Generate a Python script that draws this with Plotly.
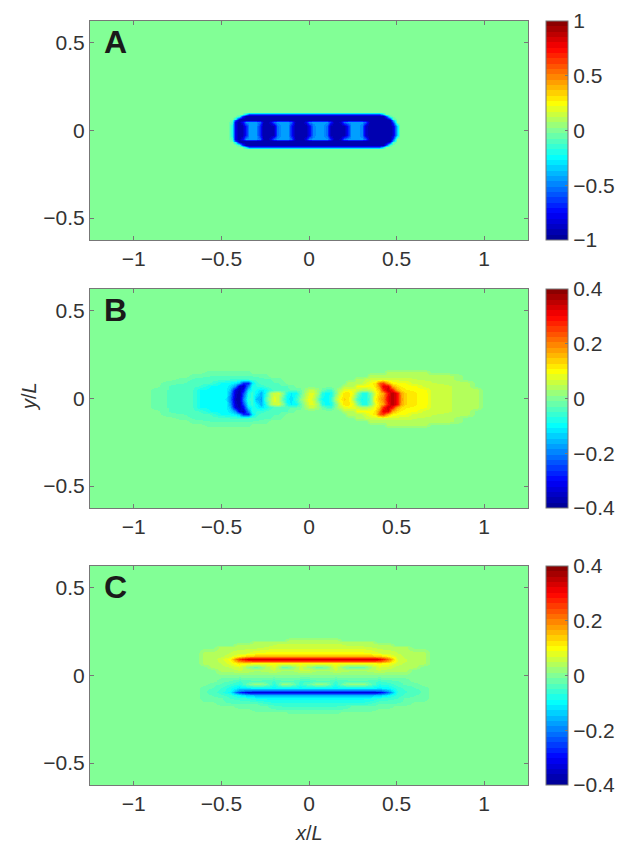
import plotly.graph_objects as go

# values, on coarse hand picked grids

x_a = [-1.25,
       -.46, -.44, -.42, -.40, -.38, -.36, -.34, -.32, -.30, -.28,
       -.26, -.24, -.22, -.20, -.18, -.16, -.14, -.12, -.10, -.08,
       -.06, -.04, -.02, 0, .02, .04, .06, .08, .10, .12,
       .14, .16, .18, .20, .22, .24, .26, .28, .30, .32,
       .34, .36, .38, .40, .42, .44, .46, .48, .50, .52,
       1.25]
y_a = [-.625, -.108, -.096, -.085, -.065, -.058, -.048, -.025, .025, .048, .058, .065, .085, .096, .108, .625]

a_blank = [0] * 52
a_edge = [0,
          0, 0, 0, 0, 0, -.3, -.6, -.6, -.6, -.6,
          -.6, -.6, -.6, -.6, -.6, -.6, -.6, -.6, -.6, -.6,
          -.6, -.6, -.6, -.6, -.6, -.6, -.6, -.6, -.6, -.6,
          -.6, -.6, -.6, -.6, -.6, -.6, -.6, -.6, -.6, -.6,
          -.6, -.6, -.6, -.6, -.3, 0, 0, 0, 0, 0,
          0]
a_round = [0,
           0, 0, 0, -.1, -.6, -.95, -.95, -.95, -.95, -.95,
           -.95, -.95, -.95, -.95, -.95, -.95, -.95, -.95, -.95, -.95,
           -.95, -.95, -.95, -.95, -.95, -.95, -.95, -.95, -.95, -.95,
           -.95, -.95, -.95, -.95, -.95, -.95, -.95, -.95, -.95, -.95,
           -.95, -.95, -.95, -.95, -.95, -.6, -.1, 0, 0, 0,
           0]
a_shoulder = [0,
              0, 0, -.2, -.85, -.95, -.95, -.95, -.95, -.95, -.95,
              -.95, -.95, -.95, -.95, -.95, -.95, -.95, -.95, -.95, -.95,
              -.95, -.95, -.95, -.95, -.95, -.95, -.95, -.95, -.95, -.95,
              -.95, -.95, -.95, -.95, -.95, -.95, -.95, -.95, -.95, -.95,
              -.95, -.95, -.95, -.95, -.95, -.95, -.7, -.1, 0, 0,
              0]
a_solid = [0,
           0, -.05, -.6, -.95, -.95, -.95, -.95, -.95, -.95, -.95,
           -.95, -.95, -.95, -.95, -.95, -.95, -.95, -.95, -.95, -.95,
           -.95, -.95, -.95, -.95, -.95, -.95, -.95, -.95, -.95, -.95,
           -.95, -.95, -.95, -.95, -.95, -.95, -.95, -.95, -.95, -.95,
           -.95, -.95, -.95, -.95, -.95, -.95, -.9, -.4, 0, 0,
           0]
a_wide = [0,
          0, -.1, -.8, -.95, -.8, -.45, -.45, -.45, -.45, -.55,
          -.9, -.95, -.85, -.55, -.45, -.45, -.45, -.45, -.55, -.9,
          -.95, -.95, -.8, -.5, -.45, -.45, -.45, -.45, -.45, -.65,
          -.95, -.95, -.85, -.55, -.45, -.45, -.45, -.45, -.45, -.55,
          -.9, -.95, -.95, -.95, -.95, -.95, -.95, -.6, 0, 0,
          0]
a_waist = [0,
           0, -.2, -.8, -.95, -.95, -.7, -.45, -.45, -.45, -.7,
           -.95, -.95, -.95, -.9, -.55, -.45, -.45, -.45, -.7, -.95,
           -.95, -.95, -.95, -.8, -.5, -.45, -.45, -.45, -.55, -.9,
           -.95, -.95, -.95, -.95, -.7, -.45, -.45, -.45, -.5, -.85,
           -.95, -.95, -.95, -.95, -.95, -.95, -.95, -.85, -.35, 0,
           0]
z_a = [a_blank, a_blank, a_edge, a_round, a_shoulder, a_solid, a_wide, a_waist,
       a_waist, a_wide, a_solid, a_shoulder, a_round, a_edge, a_blank, a_blank]

x_b = [-1.25, -.92, -.88, -.8, -.7, -.66, -.62, -.56, -.5,
       -.475, -.45, -.425, -.40, -.375, -.35, -.325, -.30, -.275, -.25, -.225, -.20,
       -.175, -.15, -.125, -.10, -.075, -.05, -.025, 0, .025, .05, .075, .10,
       .125, .15, .175, .20, .225, .25, .275, .30, .325, .35, .375, .40,
       .425, .45, .475, .50, .525, .55,
       .6, .66, .7, .8, .9, .96, 1.0, 1.25]
y_b = [-.625, -.17, -.15, -.13, -.11, -.09, -.07, -.05, -.03, 0, .03, .05, .07, .09, .11, .13, .15, .17, .625]

b_blank = [0] * 59
b_00 = [0, 0, -.025, -.03, -.04, -.05, -.09, -.095, -.10,
        -.11, -.2, -.36, -.38, -.2, -.07, -.06, -.15, -.17, -.05, .03, .08,
        .05, -.04, -.1, -.12, -.06, 0, .05, .09, .06, -.02, -.09, -.1,
        -.06, .03, .1, .13, .12, .04, -.04, -.09, -.08, -.02, .1, .15,
        .2, .32, .36, .3, .18, .13,
        .11, .1, .06, .05, .04, .04, 0, 0]
b_03 = [0, 0, -.025, -.03, -.04, -.05, -.09, -.095, -.10,
        -.10, -.18, -.34, -.38, -.25, -.09, -.06, -.1, -.16, -.09, .02, .06,
        .07, 0, -.08, -.11, -.09, -.03, .03, .07, .07, .02, -.07, -.1,
        -.08, -.01, .07, .12, .12, .08, 0, -.07, -.08, -.01, .08, .13,
        .17, .3, .36, .3, .17, .13,
        .11, .1, .06, .05, .04, .04, 0, 0]
b_05 = [0, 0, -.025, -.03, -.04, -.05, -.09, -.095, -.10,
        -.10, -.15, -.33, -.37, -.3, -.12, -.08, -.09, -.12, -.1, -.06, -.04,
        -.03, -.03, -.03, -.03, -.03, -.02, .02, .05, .05, .02, -.02, -.05,
        -.05, 0, .05, .08, .09, .08, .06, .03, .03, .05, .1, .14,
        .27, .34, .3, .17, .13, .11,
        .105, .095, .06, .05, .04, .04, 0, 0]
b_07 = [0, 0, 0, -.03, -.04, -.045, -.05, -.09, -.095,
        -.10, -.12, -.18, -.33, -.35, -.2, -.08, -.07, -.06, -.05, -.04, -.035,
        -.03, -.03, -.03, -.025, 0, 0, 0, 0, 0, 0, 0, 0,
        0, 0, 0, .04, .04, .04, .09, .09, .1, .1, .11, .2,
        .32, .32, .17, .12, .105, .10,
        .095, .06, .06, .05, .04, 0, 0, 0]
b_09 = [0, 0, 0, -.025, -.03, -.04, -.04, -.05, -.09,
        -.095, -.10, -.11, -.15, -.27, -.27, -.12, -.06, -.04, -.04, -.035, -.03,
        -.03, -.025, 0, 0, 0, 0, 0, 0, 0, 0, 0, 0,
        0, 0, 0, 0, .04, .04, .04, .05, .07, .09, .12, .22,
        .26, .16, .11, .095, .09, .09,
        .06, .06, .05, .045, .04, 0, 0, 0]
b_11 = [0, 0, 0, 0, -.025, -.03, -.035, -.04, -.04,
        -.045, -.05, -.05, -.05, -.05, -.05, -.045, -.04, -.035, -.03, -.03, -.025,
        -.025, 0, 0, 0, 0, 0, 0, 0, 0, 0, 0, 0,
        0, 0, 0, 0, 0, 0, .04, .04, .05, .06, .06, .06,
        .06, .06, .06, .06, .06, .06,
        .05, .045, .045, .04, 0, 0, 0, 0]
b_13 = [0, 0, 0, 0, 0, -.025, -.025, -.03, -.03,
        -.03, -.03, -.03, -.03, -.03, -.03, -.03, -.025, -.025, -.025, 0, 0,
        0, 0, 0, 0, 0, 0, 0, 0, 0, 0, 0, 0,
        0, 0, 0, 0, 0, 0, 0, 0, 0, .04, .04, .04,
        .04, .04, .04, .04, .04, .04,
        .04, .04, .04, .04, 0, 0, 0, 0]
b_15 = [0, 0, 0, 0, 0, 0, 0, -.025, -.025,
        -.025, -.025, -.025, -.025, -.025, -.025, 0, 0, 0, 0, 0, 0,
        0, 0, 0, 0, 0, 0, 0, 0, 0, 0, 0, 0,
        0, 0, 0, 0, 0, 0, 0, 0, 0, 0, 0, 0,
        0, .04, .04, .04, .04, .04,
        .04, .04, 0, 0, 0, 0, 0, 0]
z_b = [b_blank, b_blank, b_15, b_13, b_11, b_09, b_07, b_05, b_03, b_00,
       b_03, b_05, b_07, b_09, b_11, b_13, b_15, b_blank, b_blank]

x_c = [-1.25, -.64, -.6, -.55, -.5, -.45, -.4, -.35, -.3, -.25,
       -.2, -.15, -.1, -.05, 0, .05, .1, .15, .2, .25,
       .3, .35, .4, .45, .5, .55, .6, .65, .7, 1.25]
y_c = [-.625, -.225, -.21, -.195, -.175, -.16, -.13, -.11, -.097, -.087, -.07, -.05, -.03, 0,
       .03, .05, .07, .085, .095, .11, .13, .16, .175, .19, .205, .22, .625]

c_blank = [0] * 30
c_p205 = [0, 0, 0, 0, 0, 0, 0, 0, 0, 0,
          0, 0, .04, .04, .04, .04, .04, .04, 0, 0,
          0, 0, 0, 0, 0, 0, 0, 0, 0, 0]
c_p19 = [0, 0, 0, 0, 0, 0, 0, 0, .04, .04,
         .04, .04, .04, .04, .04, .04, .04, .04, .04, .04,
         .04, .04, 0, 0, 0, 0, 0, 0, 0, 0]
c_p175 = [0, 0, 0, 0, 0, 0, .04, .04, .04, .04,
          .05, .06, .06, .06, .06, .06, .06, .06, .05, .04,
          .04, .04, .04, .04, 0, 0, 0, 0, 0, 0]
c_p16 = [0, 0, 0, 0, .04, .04, .04, .04, .04, .05,
         .06, .06, .06, .06, .06, .06, .06, .06, .06, .06,
         .06, .05, .04, .04, .04, .04, 0, 0, 0, 0]
c_p13 = [0, 0, .04, .04, .04, .05, .06, .07, .09, .095,
         .1, .1, .1, .1, .1, .1, .1, .1, .1, .1,
         .095, .09, .07, .06, .05, .04, .04, .04, 0, 0]
c_p11 = [0, 0, .04, .04, .045, .06, .1, .14, .15, .15,
         .15, .15, .15, .15, .15, .15, .15, .15, .15, .15,
         .15, .15, .14, .1, .06, .045, .04, .04, 0, 0]
c_p095 = [0, 0, .04, .04, .06, .1, .26, .33, .34, .34,
          .34, .34, .34, .34, .34, .34, .34, .34, .34, .34,
          .34, .34, .32, .22, .07, .05, .04, .04, 0, 0]
c_p085 = [0, 0, .04, .04, .055, .09, .2, .24, .25, .25,
          .25, .25, .25, .25, .25, .25, .25, .25, .25, .25,
          .25, .25, .24, .17, .07, .05, .04, .04, 0, 0]
c_p07 = [0, 0, .04, .04, .05, .08, .12, .11, .1, .1,
         .1, .1, .1, .1, .1, .1, .1, .1, .1, .1,
         .1, .1, .11, .1, .06, .045, .04, .04, 0, 0]
c_p05 = [0, 0, 0, .04, .04, .05, .07, .01, -.02, .03,
         .07, -.02, 0, .06, .02, -.02, 0, .07, 0, -.02,
         -.02, .02, .07, .06, .04, .04, .04, 0, 0, 0]
c_p03 = [0, 0, 0, 0, .04, .04, .05, .045, .03, .04,
         .05, .03, .03, .05, .05, .03, .03, .05, .04, .03,
         .03, .04, .05, .04, .04, .04, 0, 0, 0, 0]
c_m03 = [0, 0, 0, 0, -.025, -.03, -.05, -.04, -.03, -.04,
         -.05, -.03, -.03, -.05, -.05, -.03, -.03, -.05, -.04, -.03,
         -.03, -.04, -.05, -.04, -.03, -.025, 0, 0, 0, 0]
c_m05 = [0, 0, 0, -.025, -.03, -.05, -.07, -.01, .02, 0,
         -.07, .02, 0, -.06, -.02, .02, 0, -.07, 0, .02,
         .02, -.02, -.07, -.06, -.04, -.025, -.025, 0, 0, 0]
c_m07 = [0, 0, -.025, -.03, -.05, -.08, -.12, -.11, -.1, -.1,
         -.1, -.1, -.1, -.1, -.1, -.1, -.1, -.1, -.1, -.1,
         -.1, -.1, -.11, -.1, -.06, -.045, -.03, -.025, 0, 0]
c_m087 = [0, 0, -.025, -.04, -.055, -.09, -.2, -.24, -.25, -.25,
          -.25, -.25, -.25, -.25, -.25, -.25, -.25, -.25, -.25, -.25,
          -.25, -.25, -.24, -.17, -.07, -.05, -.04, -.025, 0, 0]
c_m097 = [0, 0, -.025, -.04, -.06, -.1, -.26, -.33, -.34, -.34,
          -.34, -.34, -.34, -.34, -.34, -.34, -.34, -.34, -.34, -.34,
          -.34, -.34, -.32, -.22, -.07, -.05, -.04, -.025, 0, 0]
c_m11 = [0, 0, -.025, -.03, -.045, -.06, -.1, -.14, -.15, -.15,
         -.15, -.15, -.15, -.15, -.15, -.15, -.15, -.15, -.15, -.15,
         -.15, -.15, -.14, -.1, -.06, -.045, -.03, -.025, 0, 0]
c_m13 = [0, 0, -.025, -.025, -.025, -.05, -.06, -.07, -.09, -.095,
         -.1, -.1, -.1, -.1, -.1, -.1, -.1, -.1, -.1, -.1,
         -.095, -.09, -.07, -.06, -.05, -.025, -.025, -.025, 0, 0]
c_m16 = [0, 0, 0, 0, -.025, -.025, -.025, -.025, -.025, -.045,
         -.06, -.06, -.06, -.06, -.06, -.06, -.06, -.06, -.06, -.06,
         -.06, -.045, -.025, -.025, -.025, -.025, 0, 0, 0, 0]
c_m175 = [0, 0, 0, 0, 0, 0, -.025, -.025, -.025, -.025,
          -.04, -.05, -.05, -.05, -.05, -.05, -.05, -.05, -.04, -.025,
          -.025, -.025, -.025, -.025, 0, 0, 0, 0, 0, 0]
c_m19 = [0, 0, 0, 0, 0, 0, 0, 0, -.025, -.025,
         -.025, -.025, -.025, -.025, -.025, -.025, -.025, -.025, -.025, -.025,
         -.025, -.025, 0, 0, 0, 0, 0, 0, 0, 0]
c_m21 = [0, 0, 0, 0, 0, 0, 0, 0, 0, 0,
         0, 0, -.025, -.025, -.025, -.025, -.025, -.025, 0, 0,
         0, 0, 0, 0, 0, 0, 0, 0, 0, 0]
z_c = [c_blank, c_blank, c_m21, c_m19, c_m175, c_m16, c_m13, c_m11, c_m097, c_m087, c_m07, c_m05, c_m03, c_blank,
       c_p03, c_p05, c_p07, c_p085, c_p095, c_p11, c_p13, c_p16, c_p175, c_p19, c_p205, c_blank, c_blank]

panel_letters = ['A', 'B', 'C']
ticks_a = [-1, -.5, 0, .5, 1]
labels_a = ['\u22121', '\u22120.5', '0', '0.5', '1']
ticks_bc = [-.4, -.2, 0, .2, .4]
labels_bc = ['\u22120.4', '\u22120.2', '0', '0.2', '0.4']
x_ticks = [-1, -.5, 0, .5, 1]
x_labels = ['\u22121', '\u22120.5', '0', '0.5', '1']
y_ticks = [-.5, 0, .5]
y_labels = ['\u22120.5', '0', '0.5']

W, H = 634, 852
FONT = 'Liberation Sans'
TXT = '#333333'
FRAME = '#777777'
JET = [(0, (0, 0, 143)), (.125, (0, 0, 255)), (.375, (0, 255, 255)), (.5, (130, 255, 150)),
       (.625, (255, 255, 0)), (.875, (255, 0, 0)), (1, (128, 0, 0))]


def jet_color(t):
    for (t0, c0), (t1, c1) in zip(JET, JET[1:]):
        if t <= t1:
            f = (t - t0) / (t1 - t0)
            return 'rgb(%d,%d,%d)' % tuple(round(a + f * (b - a)) for a, b in zip(c0, c1))


# the original map has flat colour steps, that is what gives the bands round the lobes
def stepped_jet(n):
    scale = []
    for k in range(n):
        col = jet_color((k + .5) / n)
        scale += [[k / n, col], [(k + 1) / n, col]]
    return scale


panels = [
    (x_a, y_a, z_a, 1, ticks_a, labels_a, 21, 240),
    (x_b, y_b, z_b, .4, ticks_bc, labels_bc, 289, 508),
    (x_c, y_c, z_c, .4, ticks_bc, labels_bc, 566, 785),
]

fig = go.Figure()
for i, (xs, ys, zs, zmax, cticks, clabels, top, bottom) in enumerate(panels):
    suffix = '' if i == 0 else str(i + 1)
    fig.add_trace(go.Heatmap(
        x=xs, y=ys, z=zs,
        xaxis='x' + suffix, yaxis='y' + suffix,
        zsmooth='best', zmin=-zmax, zmax=zmax,
        colorscale=stepped_jet(41),
        hoverinfo='skip',
        colorbar=dict(
            x=546 / W, xanchor='left', xpad=0,
            y=1 - top / H, yanchor='top', ypad=0,
            len=(bottom - top) / H, lenmode='fraction',
            thickness=22, thicknessmode='pixels',
            outlinecolor=FRAME, outlinewidth=1,
            tickvals=cticks, ticktext=clabels,
            ticks='inside', ticklen=3, tickcolor=FRAME,
            tickfont=dict(family=FONT, size=21, color=TXT),
        ),
    ))
    fig.update_layout({
        'xaxis' + suffix: dict(
            domain=[90 / W, 528 / W], range=[-1.25, 1.25], anchor='y' + suffix,
            tickvals=x_ticks, ticktext=x_labels,
            ticks='inside', ticklen=4, tickcolor=FRAME,
            showline=True, linecolor=FRAME, linewidth=1, mirror='ticks',
            showgrid=False, zeroline=False,
            tickfont=dict(family=FONT, size=21, color=TXT),
        ),
        'yaxis' + suffix: dict(
            domain=[1 - bottom / H, 1 - top / H], range=[-.625, .625], anchor='x' + suffix,
            tickvals=y_ticks, ticktext=y_labels,
            ticks='inside', ticklen=4, tickcolor=FRAME,
            showline=True, linecolor=FRAME, linewidth=1, mirror='ticks',
            showgrid=False, zeroline=False,
            tickfont=dict(family=FONT, size=21, color=TXT),
        ),
    })
    fig.add_annotation(
        text='<b>%s</b>' % panel_letters[i],
        xref='paper', yref='paper', x=115 / W, y=1 - (top + 21) / H,
        xanchor='center', yanchor='middle', showarrow=False,
        font=dict(family=FONT, size=32, color='#1a1a1a'),
    )

fig.add_annotation(
    text='<i>x</i>/<i>L</i>', xref='paper', yref='paper', x=309 / W, y=1 - 833 / H,
    xanchor='center', yanchor='middle', showarrow=False,
    font=dict(family=FONT, size=20, color=TXT),
)
fig.add_annotation(
    text='<i>y</i>/<i>L</i>', xref='paper', yref='paper', x=29 / W, y=1 - 397 / H,
    xanchor='center', yanchor='middle', showarrow=False, textangle=-90,
    font=dict(family=FONT, size=20, color=TXT),
)

fig.update_layout(
    width=W, height=H,
    margin=dict(l=0, r=0, t=0, b=0),
    paper_bgcolor='white', plot_bgcolor='white',
    showlegend=False,
)

fig.write_html("out.html", config=dict(displayModeBar=False),
               post_script="document.body.style.margin='0';")
